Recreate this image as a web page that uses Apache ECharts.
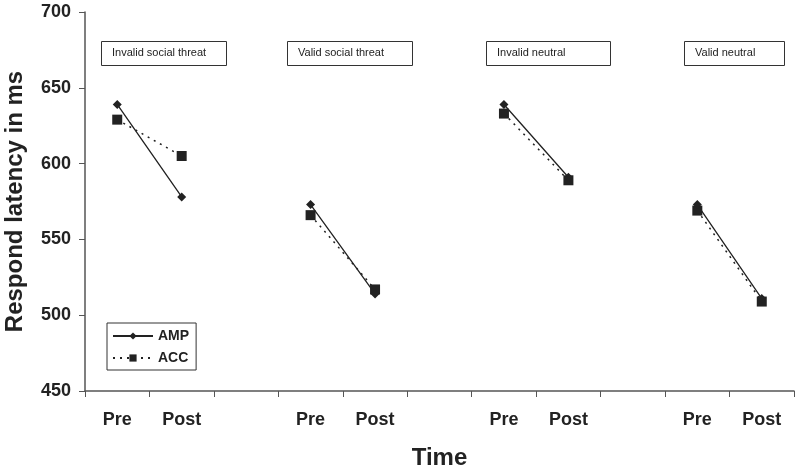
<!DOCTYPE html>
<html>
<head>
<meta charset="utf-8">
<script src="https://cdn.jsdelivr.net/npm/echarts@6/dist/echarts.min.js"></script>
<style>html,body{margin:0;padding:0;background:#fff;}#c{width:800px;height:470px;}</style>
</head>
<body>
<div id="c"></div>
<script>
var categories = ['Pre', 'Post', '', 'Pre', 'Post', '', 'Pre', 'Post', '', 'Pre', 'Post'];
var conditions = ['Invalid social threat', 'Valid social threat', 'Invalid neutral', 'Valid neutral'];
var ampValues = [[639, 578], [573, 514], [639, 591], [573, 511]];
var accValues = [[629, 605], [566, 517], [633, 589], [569, 509]];
var yTicks = [450, 500, 550, 600, 650, 700];

function flatten(groups) {
  var out = [];
  groups.forEach(function (g, i) {
    if (i > 0) out.push(null);
    out.push(g[0], g[1]);
  });
  return out;
}

var FONT = 'Liberation Sans, Arial, sans-serif';
var ink = '#222';
var boxes = [
  { x: 101, w: 125 },
  { x: 287, w: 125 },
  { x: 486, w: 124 },
  { x: 684, w: 100 }
];
var graphics = [];
conditions.forEach(function (name, i) {
  graphics.push({
    type: 'rect', left: boxes[i].x, top: 41,
    shape: { width: boxes[i].w, height: 24 },
    style: { fill: '#fff', stroke: '#333', lineWidth: 1 }
  });
  graphics.push({
    type: 'text', left: boxes[i].x + 11, top: 47,
    style: { text: name, font: '11px ' + FONT, fill: ink }
  });
});

var chart = echarts.init(document.getElementById('c'), null, { renderer: 'canvas' });
chart.setOption({
  animation: false,
  backgroundColor: '#fff',
  grid: { left: 85, right: 6, top: 12, bottom: 79, containLabel: false, outerBoundsMode: 'none' },
  legend: {
    left: 107, top: 323, orient: 'vertical',
    itemWidth: 40, itemHeight: 9, itemGap: 8,
    padding: [6, 7, 5, 5],
    borderColor: '#333', borderWidth: 1,
    backgroundColor: '#fff',
    textStyle: { fontFamily: FONT, fontWeight: 'bold', fontSize: 14, color: ink },
    data: ['AMP', 'ACC']
  },
  xAxis: {
    type: 'category',
    data: categories,
    boundaryGap: true,
    name: 'Time', nameLocation: 'middle', nameGap: 55,
    nameTextStyle: { fontFamily: FONT, fontWeight: 'bold', fontSize: 24, color: ink },
    axisLine: { lineStyle: { color: '#555', width: 1.5 } },
    axisTick: { show: true, length: 6, inside: false, lineStyle: { color: '#555' } },
    axisLabel: { fontFamily: FONT, fontWeight: 'bold', fontSize: 18, color: ink, margin: 20, interval: 0 },
    splitLine: { show: false }
  },
  yAxis: {
    type: 'value', min: 450, max: 700, interval: 50,
    name: 'Respond latency in ms', nameLocation: 'middle', nameGap: 58,
    nameTextStyle: { fontFamily: FONT, fontWeight: 'bold', fontSize: 24, color: ink },
    axisLine: { show: true, lineStyle: { color: '#555', width: 1.5 } },
    axisTick: { show: true, length: 6, lineStyle: { color: '#555' } },
    axisLabel: { fontFamily: FONT, fontWeight: 'bold', fontSize: 18, color: ink, margin: 14,
      formatter: function (v) { return yTicks.indexOf(v) >= 0 ? String(v) : ''; } },
    splitLine: { show: false }
  },
  graphic: graphics,
  series: [
    {
      name: 'AMP', type: 'line', data: flatten(ampValues), connectNulls: false,
      symbol: 'diamond', symbolSize: 9,
      lineStyle: { color: ink, width: 1.3, type: 'solid' },
      itemStyle: { color: ink }, z: 3
    },
    {
      name: 'ACC', type: 'line', data: flatten(accValues), connectNulls: false,
      symbol: 'rect', symbolSize: 10,
      lineStyle: { color: ink, width: 1.5, type: [2, 5] },
      itemStyle: { color: ink }, z: 2
    }
  ]
});
</script>
</body>
</html>
